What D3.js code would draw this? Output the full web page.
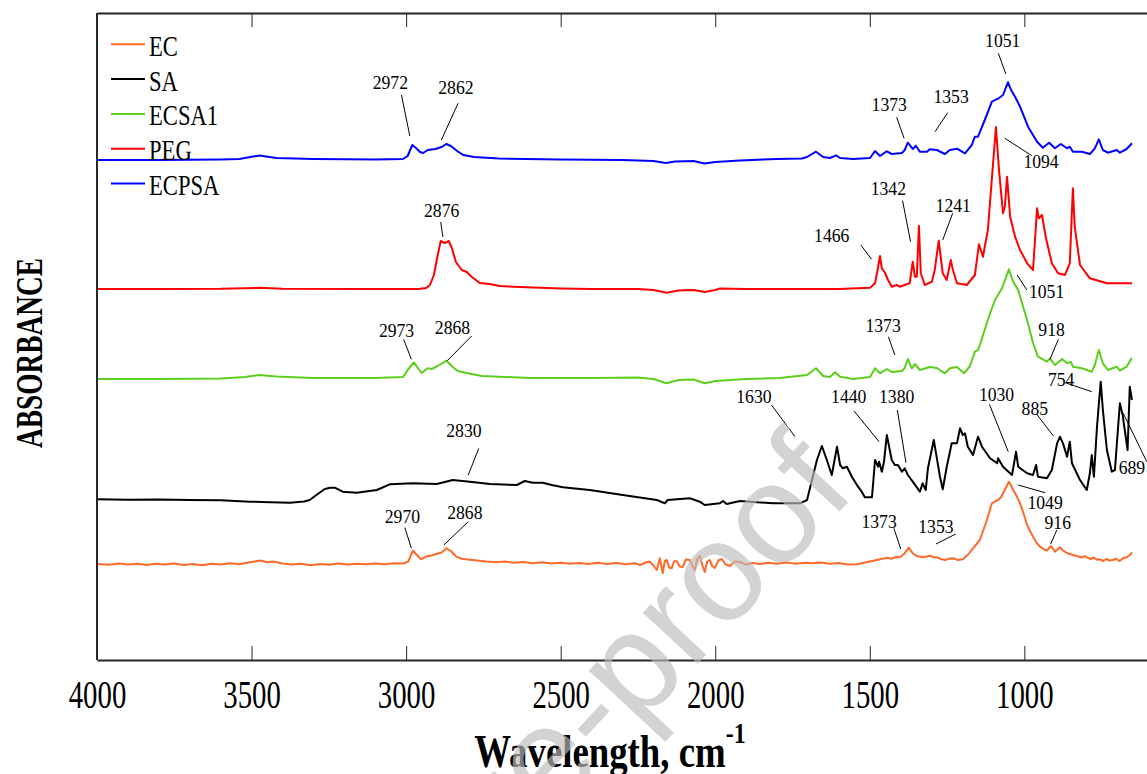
<!DOCTYPE html>
<html lang="en">
	<head>
		<meta charset="utf-8">
		<title>FTIR spectra</title>
		<script type="text/javascript" src="https://cdn.jsdelivr.net/npm/d3@7"></script>
		<style type="text/css">
			body { margin: 0; background: #fff; }
			text { font-family: "Liberation Serif", "Times New Roman", serif; }
			text.watermark { font-family: "Liberation Sans", Arial, sans-serif; }
		</style>
	</head>
	<body>
		<script type="text/javascript">

			//Width and height
			var w = 1147;
			var h = 774;

			//Series names and colours
			var seriesNames = ["EC", "SA", "ECSA1", "PEG", "ECPSA"];
			var seriesColors = ["#ff6a2b", "#000000", "#5ccf1c", "#ff0000", "#0000ff"];

			var xTicks = [4000, 3500, 3000, 2500, 2000, 1500, 1000];

			//[wavenumber, absorbance (stacked)]
			var ecData = [
				[4000,0.960],[3960,0.952],[3930,0.966],[3900,0.955],[3870,0.963],[3840,0.950],[3810,0.962],[3780,0.954],[3750,0.965],[3720,0.951],
				[3690,0.960],[3660,0.948],[3630,0.962],[3600,0.955],[3570,0.967],[3540,0.957],[3510,0.975],[3490,0.985],[3470,0.995],[3450,0.978],
				[3430,0.985],[3400,0.965],[3370,0.955],[3340,0.962],[3310,0.948],[3280,0.960],[3250,0.952],[3220,0.966],[3190,0.955],[3160,0.963],
				[3130,0.958],[3100,0.966],[3070,0.958],[3040,0.967],[3010,0.965],[2993,0.985],[2978,1.093],[2965,1.050],[2952,1.007],[2935,1.035],
				[2918,1.045],[2900,1.062],[2885,1.075],[2869,1.117],[2855,1.090],[2838,1.035],[2820,1.012],[2800,1.005],[2770,0.995],[2740,0.985],
				[2710,0.978],[2680,0.985],[2650,0.972],[2620,0.980],[2590,0.968],[2560,0.977],[2530,0.965],[2500,0.973],[2470,0.962],[2440,0.971],
				[2410,0.960],[2380,0.972],[2350,0.961],[2320,0.970],[2290,0.958],[2260,0.968],[2243,0.950],[2225,0.975],[2212,0.985],[2200,0.945],
				[2189,0.900],[2179,1.017],[2170,0.867],[2163,0.990],[2157,1.000],[2149,0.925],[2141,0.917],[2133,0.985],[2125,0.990],[2115,0.935],
				[2105,0.930],[2095,1.005],[2082,1.000],[2074,0.945],[2066,0.900],[2058,1.010],[2050,1.040],[2042,0.950],[2034,0.880],[2026,0.985],
				[2018,1.000],[2010,0.940],[2002,0.920],[1990,0.995],[1979,1.010],[1966,0.955],[1953,0.940],[1937,0.985],[1920,0.980],[1900,0.955],
				[1880,0.970],[1856,0.960],[1830,0.972],[1800,0.962],[1770,0.974],[1740,0.963],[1710,0.972],[1684,0.967],[1660,0.975],[1630,0.962],
				[1600,0.970],[1570,0.955],[1541,0.957],[1515,0.975],[1489,0.993],[1470,1.005],[1455,1.015],[1444,1.023],[1430,1.012],[1415,1.030],
				[1403,1.027],[1387,1.067],[1374,1.123],[1361,1.067],[1348,1.040],[1329,1.027],[1316,1.035],[1306,1.043],[1295,1.030],[1283,1.027],
				[1270,1.010],[1257,1.000],[1244,1.012],[1231,1.017],[1215,1.000],[1199,1.007],[1183,1.050],[1166,1.117],[1144,1.200],[1121,1.400],
				[1105,1.567],[1095,1.585],[1085,1.600],[1075,1.630],[1069,1.667],[1060,1.720],[1050,1.783],[1043,1.745],[1036,1.700],[1025,1.640],
				[1014,1.567],[1002,1.460],[991,1.350],[980,1.280],[972,1.233],[960,1.170],[949,1.133],[938,1.110],[927,1.093],[914,1.140],
				[901,1.083],[885,1.127],[877,1.100],[869,1.083],[856,1.062],[843,1.050],[830,1.040],[815,1.025],[805,1.038],[798,1.027],
				[785,1.010],[775,1.025],[765,1.002],[756,1.007],[745,0.990],[735,1.010],[725,0.995],[714,1.000],[703,1.012],[692,0.990],
				[680,1.020],[669,1.027],[660,1.045],[652,1.077]
			];

			var saData = [
				[4000,1.607],[3900,1.603],[3800,1.606],[3700,1.600],[3600,1.598],[3505,1.583],[3440,1.578],[3376,1.573],[3330,1.585],[3312,1.600],
				[3286,1.660],[3263,1.710],[3245,1.723],[3231,1.723],[3205,1.683],[3160,1.673],[3095,1.700],[3053,1.757],[2978,1.767],[2901,1.760],
				[2849,1.800],[2794,1.783],[2729,1.760],[2642,1.750],[2616,1.790],[2590,1.773],[2558,1.773],[2529,1.750],[2493,1.727],[2438,1.710],
				[2406,1.700],[2299,1.650],[2189,1.600],[2163,1.567],[2154,1.600],[2082,1.617],[2050,1.583],[2034,1.550],[1985,1.567],[1975,1.590],
				[1963,1.560],[1920,1.590],[1813,1.567],[1726,1.567],[1703,1.600],[1687,1.800],[1671,2.000],[1655,2.140],[1639,2.000],[1623,1.850],
				[1606,2.133],[1596,1.950],[1587,1.917],[1574,1.933],[1558,1.833],[1538,1.733],[1526,1.683],[1516,1.627],[1493,1.627],[1483,2.000],
				[1473,1.933],[1470,1.983],[1461,1.883],[1454,1.983],[1445,2.250],[1429,2.000],[1419,1.950],[1409,1.950],[1396,1.883],[1387,1.917],
				[1377,1.850],[1361,1.783],[1338,1.683],[1329,1.767],[1319,1.700],[1312,1.917],[1293,2.200],[1273,1.833],[1264,1.707],[1251,1.933],
				[1235,2.167],[1218,2.167],[1208,2.317],[1199,2.250],[1192,2.267],[1183,2.133],[1166,2.050],[1150,2.233],[1137,2.133],[1111,2.017],
				[1088,1.967],[1085,2.017],[1069,1.933],[1040,1.850],[1036,1.917],[1027,2.083],[1020,1.933],[991,1.867],[972,1.850],[962,1.950],
				[956,1.833],[927,1.817],[911,1.900],[894,2.167],[885,2.233],[875,2.167],[862,2.033],[853,2.183],[846,1.967],[820,1.800],
				[798,1.700],[788,1.867],[782,2.050],[775,1.833],[765,2.333],[753,2.783],[746,2.500],[733,2.100],[717,1.883],[707,1.900],
				[691,2.567],[682,2.450],[666,2.100],[659,2.733],[652,2.600]
			];

			var ecsa1Data = [
				[4000,2.810],[3800,2.810],[3600,2.815],[3520,2.830],[3475,2.850],[3420,2.835],[3300,2.820],[3100,2.820],[3010,2.830],[2995,2.900],
				[2975,2.977],[2962,2.920],[2950,2.870],[2930,2.917],[2917,2.910],[2898,2.940],[2869,2.993],[2853,2.940],[2833,2.890],[2804,2.870],
				[2755,2.840],[2600,2.820],[2400,2.820],[2250,2.825],[2200,2.810],[2157,2.767],[2120,2.800],[2070,2.805],[2034,2.767],[2000,2.790],
				[1900,2.810],[1791,2.820],[1703,2.850],[1674,2.917],[1651,2.840],[1629,2.830],[1612,2.877],[1596,2.833],[1554,2.810],[1499,2.830],
				[1483,2.917],[1467,2.867],[1445,2.910],[1429,2.880],[1396,2.890],[1387,2.920],[1377,3.010],[1364,2.917],[1354,2.960],[1338,2.900],
				[1306,2.930],[1283,2.920],[1257,2.867],[1241,2.917],[1218,2.930],[1195,2.867],[1176,2.940],[1160,3.083],[1150,3.100],[1144,3.150],
				[1111,3.467],[1095,3.600],[1072,3.720],[1050,3.907],[1036,3.783],[1020,3.700],[1004,3.533],[998,3.470],[991,3.400],[972,3.170],
				[956,3.033],[927,2.983],[917,3.017],[901,2.950],[878,3.010],[862,2.967],[850,2.983],[843,2.933],[814,2.917],[782,2.883],
				[772,2.950],[759,3.100],[746,2.967],[730,2.900],[701,2.933],[691,2.893],[669,2.933],[652,3.023]
			];

			var pegData = [
				[4000,3.710],[3800,3.710],[3600,3.712],[3475,3.722],[3400,3.712],[3100,3.710],[2960,3.710],[2935,3.720],[2923,3.750],[2910,3.850],
				[2901,4.000],[2888,4.190],[2875,4.170],[2862,4.190],[2852,4.120],[2839,3.980],[2820,3.900],[2804,3.880],[2787,3.830],[2762,3.770],
				[2730,3.760],[2697,3.740],[2632,3.730],[2500,3.715],[2400,3.710],[2250,3.710],[2200,3.700],[2157,3.673],[2120,3.695],[2070,3.700],
				[2034,3.680],[2000,3.700],[1985,3.715],[1900,3.710],[1791,3.710],[1600,3.710],[1499,3.723],[1483,3.767],[1473,3.933],[1467,4.040],
				[1461,3.917],[1451,3.873],[1441,3.800],[1429,3.733],[1413,3.750],[1403,3.733],[1371,3.767],[1361,3.983],[1354,3.833],[1348,3.833],
				[1341,4.340],[1335,3.867],[1322,3.750],[1299,3.783],[1290,3.900],[1277,4.193],[1264,3.867],[1251,3.800],[1238,4.000],[1231,3.900],
				[1218,3.767],[1186,3.750],[1160,3.850],[1147,4.157],[1134,4.033],[1118,4.300],[1102,4.933],[1092,5.330],[1082,4.900],[1069,4.467],
				[1063,4.533],[1056,4.833],[1046,4.433],[1030,4.233],[1014,4.100],[991,3.967],[972,3.900],[962,4.367],[959,4.517],[953,4.417],
				[943,4.450],[930,4.217],[911,3.967],[891,3.867],[869,3.850],[853,3.967],[843,4.717],[837,4.333],[820,3.950],[788,3.817],
				[733,3.767],[652,3.767]
			];

			var ecpsaData = [
				[4000,5.000],[3800,5.000],[3600,5.005],[3540,5.010],[3475,5.045],[3420,5.020],[3300,5.010],[3100,5.005],[3010,5.010],[2995,5.040],
				[2980,5.150],[2968,5.120],[2955,5.080],[2945,5.070],[2930,5.100],[2905,5.110],[2885,5.130],[2870,5.160],[2855,5.140],[2835,5.090],
				[2815,5.050],[2780,5.030],[2700,5.015],[2500,5.005],[2300,5.000],[2200,4.990],[2160,4.970],[2130,4.985],[2070,4.990],[2035,4.965],
				[2000,4.980],[1920,4.995],[1800,5.010],[1720,5.015],[1703,5.030],[1674,5.083],[1651,5.030],[1629,5.020],[1609,5.047],[1596,5.020],
				[1554,5.010],[1499,5.020],[1483,5.090],[1467,5.040],[1445,5.087],[1429,5.060],[1396,5.070],[1387,5.100],[1377,5.173],[1361,5.110],
				[1351,5.143],[1338,5.083],[1315,5.083],[1306,5.107],[1283,5.100],[1257,5.060],[1241,5.100],[1218,5.113],[1192,5.067],[1170,5.150],
				[1160,5.233],[1150,5.233],[1128,5.400],[1105,5.583],[1085,5.613],[1069,5.650],[1053,5.777],[1043,5.700],[1030,5.633],[1014,5.533],
				[988,5.333],[959,5.183],[940,5.123],[920,5.173],[901,5.117],[882,5.160],[862,5.117],[853,5.133],[843,5.083],[814,5.083],
				[788,5.060],[772,5.117],[759,5.207],[746,5.100],[730,5.073],[701,5.100],[691,5.073],[669,5.110],[652,5.167]
			];

			var seriesData = [ecData, saData, ecsa1Data, pegData, ecpsaData];

			//[label, text wavenumber, text baseline, line from (w, a), line to (w, a)]
			var peakLabels = [
				["2972", 3051, 5.707, 3015, 5.650, 2988, 5.240],
				["2862", 2839, 5.657, 2832, 5.567, 2886, 5.200],
				["1051", 1070, 6.127, 1084, 6.067, 1060, 5.860],
				["1373", 1437, 5.490, 1413, 5.427, 1389, 5.217],
				["1353", 1237, 5.567, 1248, 5.473, 1289, 5.283],
				["1094", 946, 4.917, 1063, 5.217, 976, 5.043],
				["2876", 2885, 4.430, 2888, 4.380, 2881, 4.230],
				["1342", 1440, 4.650, 1394, 4.593, 1368, 4.183],
				["1241", 1230, 4.480, 1232, 4.467, 1264, 4.200],
				["1466", 1623, 4.183, 1529, 4.150, 1494, 4.007],
				["1051", 928, 3.623, 1023, 3.850, 992, 3.700],
				["2973", 3031, 3.227, 3008, 3.207, 2983, 3.007],
				["2868", 2850, 3.260, 2788, 3.240, 2867, 2.993],
				["1373", 1457, 3.277, 1440, 3.233, 1419, 3.050],
				["918", 912, 3.243, 890, 3.207, 917, 3.007],
				["754", 881, 2.740, 868, 2.773, 782, 2.683],
				["2830", 2813, 2.233, 2765, 2.117, 2799, 1.850],
				["1630", 1875, 2.573, 1818, 2.550, 1742, 2.233],
				["1440", 1568, 2.567, 1551, 2.490, 1470, 2.183],
				["1380", 1413, 2.567, 1411, 2.500, 1383, 1.973],
				["1030", 1090, 2.590, 1113, 2.557, 1052, 2.083],
				["885", 966, 2.447, 958, 2.450, 906, 2.240],
				["689", 652, 1.860, 680, 2.467, 604, 1.983],
				["1049", 933, 1.510, 1020, 1.750, 933, 1.673],
				["2970", 3012, 1.373, 3004, 1.323, 2983, 1.117],
				["2868", 2810, 1.413, 2799, 1.383, 2878, 1.150],
				["1373", 1470, 1.317, 1422, 1.317, 1400, 1.110],
				["1353", 1286, 1.273, 1222, 1.260, 1286, 1.160],
				["916", 892, 1.307, 895, 1.300, 915, 1.160]
			];

			var xScale = d3.scaleLinear()
			.domain([4000, 600])
			.range([97, 1148]);

			var yScale = d3.scaleLinear()
			.domain([0, 6.47])
			.range([660, 13]);

			//Create SVG element
			var svg = d3.select("body")
						.append("svg")
						.attr("width", w)
						.attr("height", h);

			var line = d3.line()
			.x(function(d){return xScale(d[0]);})
			.y(function(d){return yScale(d[1]);});

			svg.selectAll("path.spectrum")
			.data(seriesData)
			.enter()
			.append("path")
			.attr("class", "spectrum")
			.attr("d", line)
			.attr("fill", "none")
			.attr("stroke", function(d, i){return seriesColors[i];})
			.attr("stroke-width", 2)
			.attr("stroke-linejoin", "round");

			//peak labels and leader lines
			svg.selectAll("line.leader")
			.data(peakLabels)
			.enter()
			.append("line")
			.attr("class", "leader")
			.attr("x1", function(d){return xScale(d[3]);})
			.attr("y1", function(d){return yScale(d[4]);})
			.attr("x2", function(d){return xScale(d[5]);})
			.attr("y2", function(d){return yScale(d[6]);})
			.attr("stroke", "#000")
			.attr("stroke-width", 1);

			svg.selectAll("text.peak")
			.data(peakLabels)
			.enter()
			.append("text")
			.attr("class", "peak")
			.attr("transform", function(d){return "translate(" + xScale(d[1]) + "," + yScale(d[2]) + ") scale(0.93,1)";})
			.attr("text-anchor", "middle")
			.attr("font-size", 19)
			.attr("fill", "#000")
			.text(function(d){return d[0];});

			//axes
			var xAxis = d3.axisBottom(xScale)
			.tickValues(xTicks)
			.tickSize(-14)
			.tickSizeOuter(0)
			.tickPadding(20)
			.tickFormat(d3.format("d"));

			var gx = svg.append("g")
			.attr("transform", "translate(0,660)")
			.call(xAxis);

			gx.select(".domain").attr("stroke", "#262626").attr("stroke-width", 2);
			gx.selectAll(".tick line").attr("stroke", "#262626");
			gx.selectAll(".tick text")
			.attr("font-size", 40)
			.attr("fill", "#000")
			.attr("transform", "scale(0.72,1)");

			var gTop = svg.append("g")
			.attr("transform", "translate(0,13)")
			.call(d3.axisTop(xScale).tickValues(xTicks).tickSize(-14).tickSizeOuter(0).tickFormat(""));

			gTop.select(".domain").attr("stroke", "#262626").attr("stroke-width", 2);
			gTop.selectAll(".tick line").attr("stroke", "#262626");

			svg.append("line")
			.attr("x1", 97).attr("x2", 97)
			.attr("y1", 13).attr("y2", 660)
			.attr("stroke", "#262626")
			.attr("stroke-width", 2);

			svg.append("line")
			.attr("x1", 1148).attr("x2", 1148)
			.attr("y1", 13).attr("y2", 660)
			.attr("stroke", "#262626")
			.attr("stroke-width", 2);

			//legend
			var legend = svg.selectAll("g.legend")
			.data(seriesNames)
			.enter()
			.append("g")
			.attr("class", "legend")
			.attr("transform", function(d, i){return "translate(0," + (44.3 + i * 34.8) + ")";});

			legend.append("line")
			.attr("x1", 111).attr("x2", 145)
			.attr("y1", 0).attr("y2", 0)
			.attr("stroke", function(d, i){return seriesColors[i];})
			.attr("stroke-width", 2);

			legend.append("text")
			.attr("transform", "translate(149,11.5) scale(0.78,1)")
			.attr("font-size", 29)
			.attr("fill", "#000")
			.text(function(d){return d;});

			//axis titles
			var xTitle = svg.append("text")
			.attr("transform", "translate(610,767) scale(0.8,1)")
			.attr("text-anchor", "middle")
			.attr("font-size", 46)
			.attr("font-weight", "bold")
			.attr("fill", "#000")
			.text("Wavelength, cm");

			xTitle.append("tspan")
			.attr("font-size", 30)
			.attr("dy", -24)
			.text("-1");

			svg.append("text")
			.attr("transform", "translate(42,353) rotate(-90) scale(0.72,1)")
			.attr("text-anchor", "middle")
			.attr("font-size", 38)
			.attr("font-weight", "bold")
			.attr("fill", "#000")
			.text("ABSORBANCE");

			//watermark
			svg.append("text")
			.attr("class", "watermark")
			.attr("transform", "translate(858,492) rotate(-47)")
			.attr("text-anchor", "end")
			.attr("font-size", 142)
			.attr("fill", "#bdbdbd")
			.attr("opacity", 0.65)
			.text("Journal Pre-proof");

		</script>
	</body>
</html>
